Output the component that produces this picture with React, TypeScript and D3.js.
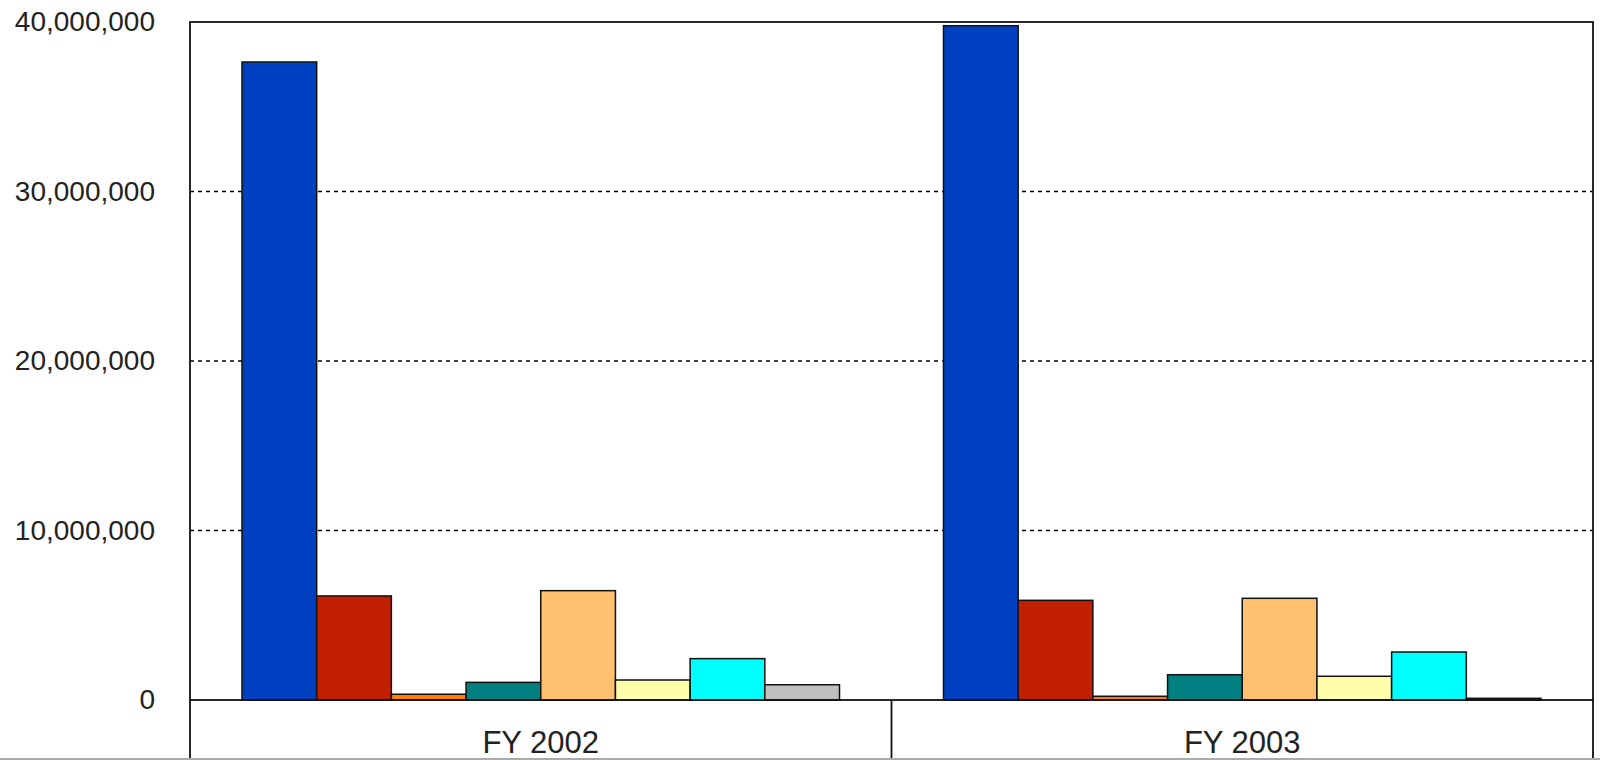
import * as d3 from "d3";
import { useEffect, useRef } from "react";

const categories = ["FY 2002", "FY 2003"];
const seriesNames = ["S1", "S2", "S3", "S4", "S5", "S6", "S7", "S8"];
const seriesColors = ["#0040C0", "#C02000", "#FF8000", "#008080", "#FFC070", "#FFFFAA", "#00FFFF", "#C0C0C0"];
const fy2002 = [37640000, 6140000, 340000, 1040000, 6450000, 1180000, 2440000, 900000];
const fy2003 = [39780000, 5880000, 220000, 1490000, 6000000, 1400000, 2830000, 100000];
const yTicks = [0, 10000000, 20000000, 30000000, 40000000];

const values = [fy2002, fy2003];

const App = () => {
  const ref = useRef<SVGSVGElement>(null);

  useEffect(() => {
    const svg = d3.select(ref.current);
    svg.selectAll("*").remove();
    const width = 1600;
    const height = 760;
    svg.attr("width", width).attr("height", height);

    const margin = { top: 22, right: 7, bottom: 60, left: 190 };
    const plotBottom = height - margin.bottom;

    const x0 = d3
      .scaleBand()
      .domain(categories)
      .range([margin.left, width - margin.right]);

    const gap = 52;
    const x1 = d3
      .scaleBand()
      .domain(seriesNames)
      .range([gap, x0.bandwidth() - gap]);

    const y = d3
      .scaleLinear()
      .domain([0, 40000000])
      .range([plotBottom, margin.top]);

    // dashed gridlines
    svg
      .append("g")
      .selectAll("line")
      .data(yTicks.filter((t) => t > 0 && t < 40000000))
      .enter()
      .append("line")
      .attr("x1", margin.left)
      .attr("x2", width - margin.right)
      .attr("y1", (d) => y(d))
      .attr("y2", (d) => y(d))
      .attr("stroke", "#000")
      .attr("stroke-width", 1.3)
      .attr("stroke-dasharray", "4,4");

    // bars
    const groups = svg
      .append("g")
      .selectAll("g")
      .data(categories)
      .enter()
      .append("g")
      .attr("transform", (d) => `translate(${x0(d)},0)`);

    groups
      .selectAll("rect")
      .data((_, i) => values[i].map((v, j) => ({ key: seriesNames[j], value: v, color: seriesColors[j] })))
      .enter()
      .append("rect")
      .attr("x", (d) => x1(d.key)!)
      .attr("y", (d) => y(d.value))
      .attr("width", x1.bandwidth())
      .attr("height", (d) => plotBottom - y(d.value))
      .attr("fill", (d) => d.color)
      .attr("stroke", "#111")
      .attr("stroke-width", 1.5);

    // plot frame
    svg
      .append("rect")
      .attr("x", margin.left)
      .attr("y", margin.top)
      .attr("width", width - margin.right - margin.left)
      .attr("height", plotBottom - margin.top)
      .attr("fill", "none")
      .attr("stroke", "#111")
      .attr("stroke-width", 1.8);

    // y axis labels
    const yAxis = d3
      .axisLeft(y)
      .tickValues(yTicks)
      .tickSize(0)
      .tickPadding(35)
      .tickFormat((d) => d3.format(",")(d as number));
    const yg = svg.append("g").attr("transform", `translate(${margin.left},0)`).call(yAxis);
    yg.select(".domain").remove();
    yg.selectAll("text")
      .attr("font-family", "'Liberation Sans', Arial, sans-serif")
      .attr("font-size", 28)
      .attr("fill", "#222");

    // category boxes
    const bounds = [margin.left, x0("FY 2003")!, width - margin.right];
    svg
      .append("g")
      .selectAll("line")
      .data(bounds)
      .enter()
      .append("line")
      .attr("x1", (d) => d)
      .attr("x2", (d) => d)
      .attr("y1", plotBottom)
      .attr("y2", height)
      .attr("stroke", "#111")
      .attr("stroke-width", 1.8);

    svg
      .append("line")
      .attr("x1", 0)
      .attr("x2", width)
      .attr("y1", height - 1)
      .attr("y2", height - 1)
      .attr("stroke", "#aaa")
      .attr("stroke-width", 2);

    svg
      .append("g")
      .selectAll("text")
      .data(categories)
      .enter()
      .append("text")
      .attr("x", (d) => x0(d)! + x0.bandwidth() / 2)
      .attr("y", 753)
      .attr("text-anchor", "middle")
      .attr("font-family", "'Liberation Sans', Arial, sans-serif")
      .attr("font-size", 31)
      .attr("fill", "#222")
      .text((d) => d);
  }, []);

  return (
    <svg
      ref={ref}
      style={{ position: "absolute", left: 0, top: 0, background: "#fff", display: "block" }}
    ></svg>
  );
};

export default App;
